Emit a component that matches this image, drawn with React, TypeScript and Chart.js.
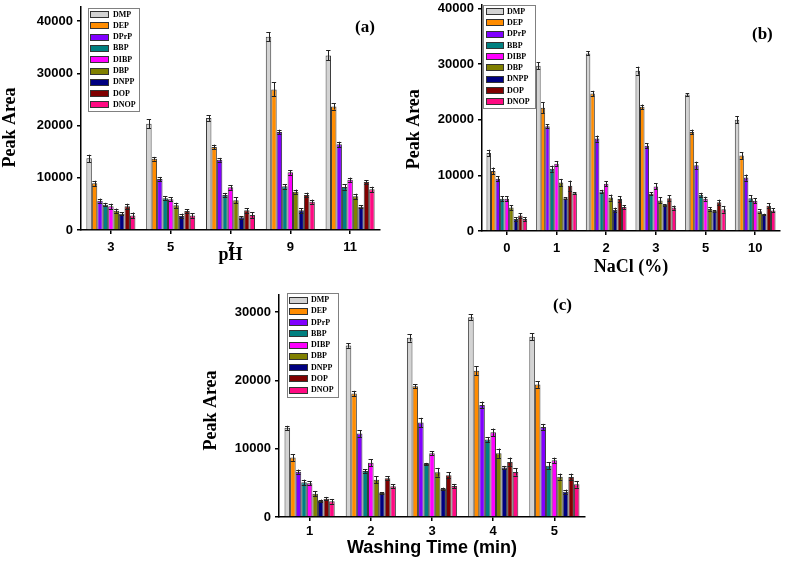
import React, { useEffect, useRef } from 'react';
import { Chart, registerables } from 'chart.js';

Chart.register(...registerables);

// ---------------- data ----------------
const compounds = ['DMP', 'DEP', 'DPrP', 'BBP', 'DIBP', 'DBP', 'DNPP', 'DOP', 'DNOP'];
const compoundColors = ['#d3d3d3', '#ff8c00', '#8000ff', '#008080', '#ff00ff', '#808000', '#000080', '#800000', '#ff0a82'];

// y-axis tick values
const yTicks40k = [0, 10000, 20000, 30000, 40000];
const yTicks30k = [0, 10000, 20000, 30000];

// (a) pH
const phLabels = ['3', '5', '7', '9', '11'];
const phDMP = [13720, 20350, 21440, 37000, 33430];
const phDEP = [8930, 13650, 15890, 26920, 23670];
const phDPrP = [5610, 9760, 13460, 18760, 16400];
const phBBP = [4850, 6060, 6700, 8360, 8230];
const phDIBP = [4530, 5870, 8170, 11040, 9630];
const phDBP = [3700, 4720, 5680, 7340, 6440];
const phDNPP = [3130, 2680, 2420, 3760, 4470];
const phDOP = [4530, 3640, 3760, 6700, 9190];
const phDNOP = [2800, 2800, 2870, 5420, 7780];
const phErrDMP = [700, 900, 550, 850, 950];
const phErrDEP = [500, 350, 450, 1350, 600];
const phErrDPrP = [400, 400, 350, 450, 500];
const phErrBBP = [350, 400, 400, 450, 500];
const phErrDIBP = [500, 400, 450, 450, 400];
const phErrDBP = [400, 500, 550, 400, 500];
const phErrDNPP = [300, 450, 250, 450, 250];
const phErrDOP = [500, 350, 450, 450, 350];
const phErrDNOP = [550, 450, 550, 400, 500];

// (b) NaCl (%)
const naclLabels = ['0', '1', '2', '3', '5', '10'];
const naclDMP = [14000, 29700, 31900, 28800, 24500, 20000];
const naclDEP = [10800, 22150, 24700, 22300, 17800, 13550];
const naclDPrP = [9400, 18800, 16600, 15300, 11800, 9600];
const naclBBP = [5800, 11200, 7100, 6700, 6500, 5900];
const naclDIBP = [5800, 12100, 8500, 8000, 5800, 5450];
const naclDBP = [4200, 8700, 6000, 5500, 3950, 3550];
const naclDNPP = [2150, 5870, 3830, 4650, 3600, 3000];
const naclDOP = [2800, 8150, 5750, 5900, 5150, 4550];
const naclDNOP = [2150, 6770, 4300, 4200, 3900, 3700];
const naclErrDMP = [600, 600, 360, 720, 240, 660];
const naclErrDEP = [600, 1000, 480, 420, 420, 600];
const naclErrDPrP = [420, 360, 540, 420, 660, 540];
const naclErrBBP = [420, 540, 300, 300, 360, 480];
const naclErrDIBP = [420, 480, 480, 540, 360, 420];
const naclErrDBP = [420, 660, 540, 540, 300, 360];
const naclErrDNPP = [360, 150, 360, 150, 100, 100];
const naclErrDOP = [420, 900, 480, 540, 480, 420];
const naclErrDNOP = [360, 150, 300, 360, 600, 360];

// (c) Washing time (min)
const washLabels = ['1', '2', '3', '4', '5'];
const washDMP = [13050, 25110, 26230, 29260, 26380];
const washDEP = [8700, 18080, 19150, 21400, 19390];
const washDPrP = [6640, 12210, 13830, 16410, 13190];
const washBBP = [5080, 6740, 7770, 11330, 7520];
const washDIBP = [4930, 7960, 9330, 12410, 8300];
const washDBP = [3420, 5470, 6550, 9330, 5910];
const washDNPP = [2350, 3520, 4100, 7230, 3710];
const washDOP = [2690, 5670, 6110, 8060, 5860];
const washDNOP = [2300, 4490, 4540, 6600, 4790];
const washErrDMP = [300, 340, 540, 390, 490];
const washErrDEP = [490, 390, 300, 640, 490];
const washErrDPrP = [300, 490, 690, 490, 440];
const washErrBBP = [390, 250, 150, 390, 490];
const washErrDIBP = [300, 490, 300, 540, 390];
const washErrDBP = [390, 490, 640, 690, 440];
const washErrDNPP = [200, 100, 200, 250, 300];
const washErrDOP = [250, 300, 440, 640, 490];
const washErrDNOP = [340, 300, 300, 540, 490];

const phSeries = [phDMP, phDEP, phDPrP, phBBP, phDIBP, phDBP, phDNPP, phDOP, phDNOP];
const phErrors = [phErrDMP, phErrDEP, phErrDPrP, phErrBBP, phErrDIBP, phErrDBP, phErrDNPP, phErrDOP, phErrDNOP];
const naclSeries = [naclDMP, naclDEP, naclDPrP, naclBBP, naclDIBP, naclDBP, naclDNPP, naclDOP, naclDNOP];
const naclErrors = [naclErrDMP, naclErrDEP, naclErrDPrP, naclErrBBP, naclErrDIBP, naclErrDBP, naclErrDNPP, naclErrDOP, naclErrDNOP];
const washSeries = [washDMP, washDEP, washDPrP, washBBP, washDIBP, washDBP, washDNPP, washDOP, washDNOP];
const washErrors = [washErrDMP, washErrDEP, washErrDPrP, washErrBBP, washErrDIBP, washErrDBP, washErrDNPP, washErrDOP, washErrDNOP];

// ---------------- styles ----------------
const SANS = '"Liberation Sans", Arial, sans-serif';
const SERIF = '"Liberation Serif", "Times New Roman", serif';

const errorBarPlugin = {
  id: 'errorBars',
  afterDatasetsDraw(chart: any) {
    const ctx = chart.ctx;
    const yScale = chart.scales.y;
    ctx.save();
    ctx.strokeStyle = '#222';
    ctx.lineWidth = 1;
    chart.data.datasets.forEach((ds: any, di: number) => {
      const meta = chart.getDatasetMeta(di);
      meta.data.forEach((bar: any, i: number) => {
        const v = ds.data[i];
        const e = ds.errors[i];
        const { x, width } = bar.getProps(['x', 'width'], true);
        const yt = yScale.getPixelForValue(v + e);
        const yb = yScale.getPixelForValue(v - e);
        const cw = width * 0.8;
        const xr = Math.round(x) + 0.5;
        ctx.beginPath();
        ctx.moveTo(xr, yt);
        ctx.lineTo(xr, yb);
        ctx.moveTo(x - cw / 2, Math.round(yt) + 0.5);
        ctx.lineTo(x + cw / 2, Math.round(yt) + 0.5);
        ctx.moveTo(x - cw / 2, Math.round(yb) + 0.5);
        ctx.lineTo(x + cw / 2, Math.round(yb) + 0.5);
        ctx.stroke();
      });
    });
    ctx.restore();
  },
};

const boxLegendPlugin = {
  id: 'boxLegend',
  afterDraw(chart: any, _args: any, o: any) {
    const ctx = chart.ctx;
    ctx.save();
    ctx.fillStyle = '#fff';
    ctx.fillRect(o.x, o.y, o.w, o.h);
    ctx.strokeStyle = '#808080';
    ctx.lineWidth = 1;
    ctx.strokeRect(o.x + 0.5, o.y + 0.5, o.w, o.h);
    chart.data.datasets.forEach((ds: any, i: number) => {
      const cy = o.rowTop + i * o.rowGap;
      const sy = Math.round(cy - o.swH / 2);
      ctx.fillStyle = ds.backgroundColor;
      ctx.fillRect(o.swX, sy, o.swW, o.swH);
      ctx.strokeStyle = '#333';
      ctx.strokeRect(o.swX + 0.5, sy + 0.5, o.swW - 1, o.swH - 1);
      ctx.fillStyle = '#000';
      ctx.font = `bold 8px ${SERIF}`;
      ctx.textBaseline = 'middle';
      ctx.textAlign = 'left';
      ctx.fillText(ds.label, o.textX, cy);
    });
    ctx.font = `bold 17px ${SERIF}`;
    ctx.textBaseline = 'alphabetic';
    ctx.fillStyle = '#000';
    ctx.fillText(o.tag, o.tagX, o.tagY);
    ctx.restore();
  },
};

type PanelCfg = {
  left: number; top: number; width: number; height: number;
  labels: string[]; series: number[][]; errors: number[][]; yTicks: number[];
  yMax: number; yAxisWidth: number; xAxisHeight: number; padTop: number; padRight: number;
  yTitle: string; yTitlePad: number; xTitle: string; xTitleFamily: string; xTitlePad: number; xTickPad: number;
  legend: any;
};

const panels: PanelCfg[] = [
  {
    left: 0, top: 0, width: 390, height: 280,
    labels: phLabels, series: phSeries, errors: phErrors, yTicks: yTicks40k,
    yMax: 42700, yAxisWidth: 81, xAxisHeight: 50, padTop: 7, padRight: 10,
    yTitle: 'Peak Area    ', yTitlePad: 0, xTitle: 'pH', xTitleFamily: SERIF, xTitlePad: 14, xTickPad: 6,
    legend: { x: 88, y: 8, w: 51, h: 103, rowTop: 14.5, rowGap: 11.3, swX: 90, swW: 19, swH: 7, textX: 113, tag: '(a)', tagX: 355, tagY: 32 },
  },
  {
    left: 390, top: 0, width: 397, height: 280,
    labels: naclLabels, series: naclSeries, errors: naclErrors, yTicks: yTicks40k,
    yMax: 40600, yAxisWidth: 92, xAxisHeight: 49, padTop: 5, padRight: 7,
    yTitle: 'Peak Area     ', yTitlePad: 14, xTitle: 'NaCl (%)', xTitleFamily: SERIF, xTitlePad: 2, xTickPad: 6,
    legend: { x: 93, y: 5, w: 52, h: 103, rowTop: 11.7, rowGap: 11.25, swX: 96, swW: 18, swH: 7, textX: 117, tag: '(b)', tagX: 362, tagY: 39 },
  },
  {
    left: 180, top: 280, width: 420, height: 281,
    labels: washLabels, series: washSeries, errors: washErrors, yTicks: yTicks30k,
    yMax: 32500, yAxisWidth: 99, xAxisHeight: 44, padTop: 15, padRight: 15,
    yTitle: 'Peak Area  ', yTitlePad: 21, xTitle: 'Washing Time (min)', xTitleFamily: SANS, xTitlePad: 2, xTickPad: 3,
    legend: { x: 107, y: 13, w: 51, h: 104, rowTop: 20, rowGap: 11.25, swX: 109, swW: 19, swH: 7, textX: 131, tag: '(c)', tagX: 373, tagY: 30 },
  },
];

function Panel({ cfg }: { cfg: PanelCfg }) {
  const ref = useRef<HTMLCanvasElement>(null);
  useEffect(() => {
    const datasets = compounds.map((name, i) => ({
      label: name,
      data: cfg.series[i],
      errors: cfg.errors[i],
      backgroundColor: compoundColors[i],
      borderColor: '#3a3a3a',
      borderWidth: 1,
      categoryPercentage: 0.82,
      barPercentage: 1,
    }));
    const chart = new Chart(ref.current as HTMLCanvasElement, {
      type: 'bar',
      data: { labels: cfg.labels, datasets: datasets as any },
      plugins: [errorBarPlugin, boxLegendPlugin],
      options: {
        responsive: false,
        animation: false,
        devicePixelRatio: 1,
        layout: { padding: { top: cfg.padTop, right: cfg.padRight, left: 0, bottom: 0 } },
        plugins: {
          legend: { display: false },
          tooltip: { enabled: false },
          boxLegend: cfg.legend,
        } as any,
        scales: {
          x: {
            type: 'category',
            grid: { display: true, drawOnChartArea: false, drawTicks: true, tickLength: 4, offset: false, color: '#000', lineWidth: 1.5 },
            border: { display: true, color: '#000', width: 1.5 },
            ticks: { color: '#000', font: { family: SANS, size: 13, weight: 'bold' }, padding: cfg.xTickPad, maxRotation: 0, autoSkip: false },
            title: { display: true, text: cfg.xTitle, color: '#000', font: { family: cfg.xTitleFamily, size: 18, weight: 'bold' }, padding: { top: 0, bottom: cfg.xTitlePad } },
            afterFit: (s: any) => { s.height = cfg.xAxisHeight; s.paddingLeft = 0; s.paddingRight = 0; },
          },
          y: {
            type: 'linear',
            min: 0,
            max: cfg.yMax,
            grid: { display: true, drawOnChartArea: false, drawTicks: true, tickLength: 4, color: '#000', lineWidth: 1.5 },
            border: { display: true, color: '#000', width: 1.5 },
            afterBuildTicks: (s: any) => { s.ticks = cfg.yTicks.map((v) => ({ value: v })); },
            ticks: { color: '#000', font: { family: SANS, size: 13, weight: 'bold' }, padding: 4, callback: (v: any) => String(v) },
            title: { display: true, text: cfg.yTitle, color: '#000', font: { family: SERIF, size: 18, weight: 'bold' }, padding: { top: cfg.yTitlePad, bottom: 0 } },
            afterFit: (s: any) => { s.width = cfg.yAxisWidth; s.paddingTop = 0; s.paddingBottom = 0; },
          },
        },
      } as any,
    });
    return () => chart.destroy();
  }, []);
  return (
    <canvas
      ref={ref}
      width={cfg.width}
      height={cfg.height}
      style={{ position: 'absolute', left: cfg.left, top: cfg.top, width: cfg.width, height: cfg.height }}
    />
  );
}

export default function App() {
  return (
    <div style={{ position: 'absolute', left: 0, top: 0, width: 787, height: 561, background: '#fff', overflow: 'hidden' }}>
      {panels.map((p, i) => (
        <Panel key={i} cfg={p} />
      ))}
    </div>
  );
}
